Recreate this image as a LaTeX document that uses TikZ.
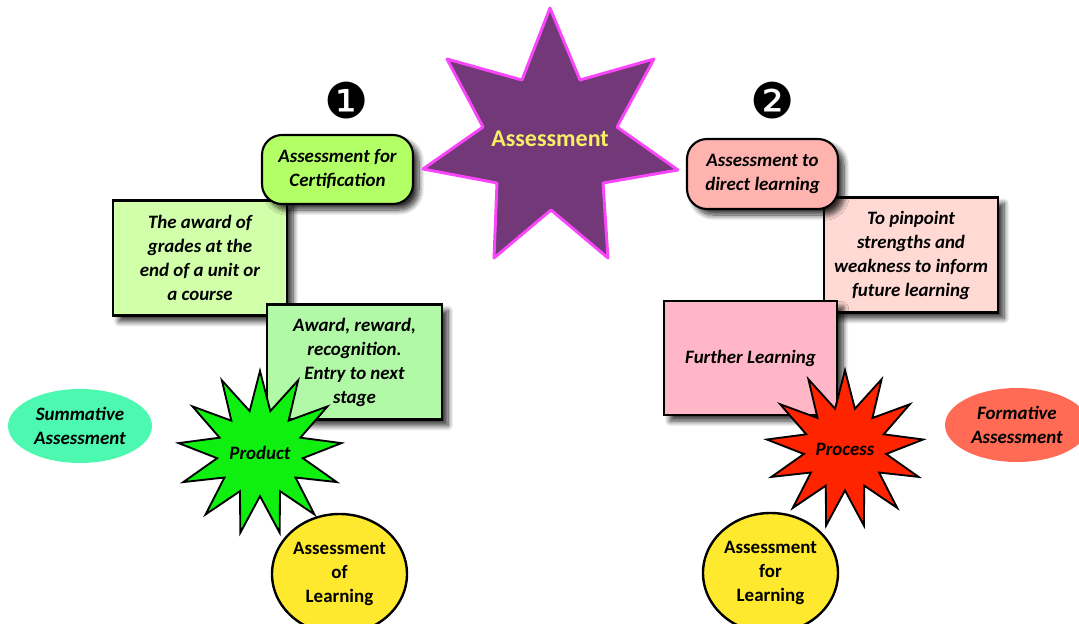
\documentclass[tikz,border=0pt]{standalone}
\usepackage{fontspec}
\setmainfont{Carlito}
\newfontfamily\djv{DejaVu Sans}
\usetikzlibrary{shapes.geometric,shadows.blur}
\definecolor{starpurple}{RGB}{115,56,120}
\definecolor{starmag}{RGB}{250,70,250}
\definecolor{startext}{RGB}{245,240,100}
\definecolor{certgreen}{RGB}{179,255,102}
\definecolor{awardgreen}{RGB}{210,255,170}
\definecolor{rewardgreen}{RGB}{178,249,167}
\definecolor{summint}{RGB}{77,249,176}
\definecolor{prodgreen}{RGB}{16,240,16}
\definecolor{yelcirc}{RGB}{255,233,46}
\definecolor{dirpink}{RGB}{255,179,175}
\definecolor{pinpink}{RGB}{255,218,213}
\definecolor{furpink}{RGB}{255,183,199}
\definecolor{procred}{RGB}{255,36,0}
\definecolor{formsalmon}{RGB}{255,107,85}
\tikzset{
  lbl/.style={font=\bfseries\itshape\fontsize{14.2}{18}\selectfont, align=center, text=black},
  shad/.style={blur shadow={shadow xshift=4.5pt, shadow yshift=-4.5pt, shadow blur steps=10, shadow opacity=80, shadow blur radius=4pt}},
  sqbox/.style={lbl, draw=black, line width=1.6pt, rectangle, inner sep=0pt, shad},
  rbox/.style={lbl, draw=black, line width=1.6pt, rectangle, rounded corners=15pt, inner sep=0pt, shad},
  oval/.style={lbl, ellipse, inner sep=0pt, minimum width=108pt, minimum height=55.5pt},
  yel/.style={font=\bfseries\fontsize{14.2}{18}\selectfont, align=center, ellipse, draw=black, line width=1.8pt, fill=yelcirc, inner sep=0pt, minimum width=101.25pt, minimum height=90pt},
  burst/.style={lbl, star, star points=13, star point ratio=1.9, minimum size=118pt, inner sep=0pt, draw=black, line width=1.4pt},
  num/.style={font=\djv\fontsize{37}{37}\selectfont, inner sep=0pt}
}
\begin{document}
\begin{tikzpicture}[x=0.75pt,y=-0.75pt]
\useasboundingbox (0,0) rectangle (1079,624);

% numbers
\node[num] (n1) at (347,101) {❶};
\node[num] (n2) at (773,101) {❷};

% ovals and circles
\node[oval, fill=summint] (sum) at (80,426) {Summative\\Assessment};
\node[oval, fill=formsalmon] (form) at (1017,425) {Formative\\Assessment};
\node[yel] (aol) at (339.5,574) {Assessment\\of\\Learning};
\node[yel] (afl) at (770.5,573) {Assessment\\for\\Learning};

% left boxes
\node[sqbox, fill=awardgreen, minimum width=130.5pt, minimum height=86.25pt] (award) at (200,258) {The award of\\grades at the\\end of a unit or\\a course};
\node[rbox, fill=certgreen, minimum width=113.25pt, minimum height=51.75pt] (cert) at (337.5,169.5) {Assessment for\\Certification};
\node[sqbox, fill=rewardgreen, minimum width=131.25pt, minimum height=86.25pt] (reward) at (354.5,362) {Award, reward,\\recognition.\\Entry to next\\stage};

% right boxes
\node[sqbox, fill=pinpink, minimum width=130.5pt, minimum height=86.25pt] (pin) at (911,255) {To pinpoint\\strengths and\\weakness to inform\\future learning};
\node[rbox, fill=dirpink, minimum width=113.25pt, minimum height=52.5pt] (dir) at (762.5,174) {Assessment to\\direct learning};
\node[sqbox, fill=furpink, minimum width=129.75pt, minimum height=85.5pt] (fur) at (750.5,358) {Further Learning};

% bursts
\node[burst, fill=prodgreen] (prod) at (260,453) {Product};
\node[burst, fill=procred] (proc) at (845,449) {Process};

% central star
\filldraw[fill=starpurple, draw=starmag, line width=2.2pt, line join=round]
  (550,8) -- (580,80) -- (654,59) -- (617,127) -- (678,170) -- (603,183) -- (608,258)
  -- (551,210) -- (494,258) -- (497,183) -- (423,169) -- (483,127) -- (447,59) -- (522,80) -- cycle;
\node[font=\bfseries\fontsize{18}{22}\selectfont, text=startext] (assess) at (550,139) {Assessment};
\end{tikzpicture}
\end{document}
